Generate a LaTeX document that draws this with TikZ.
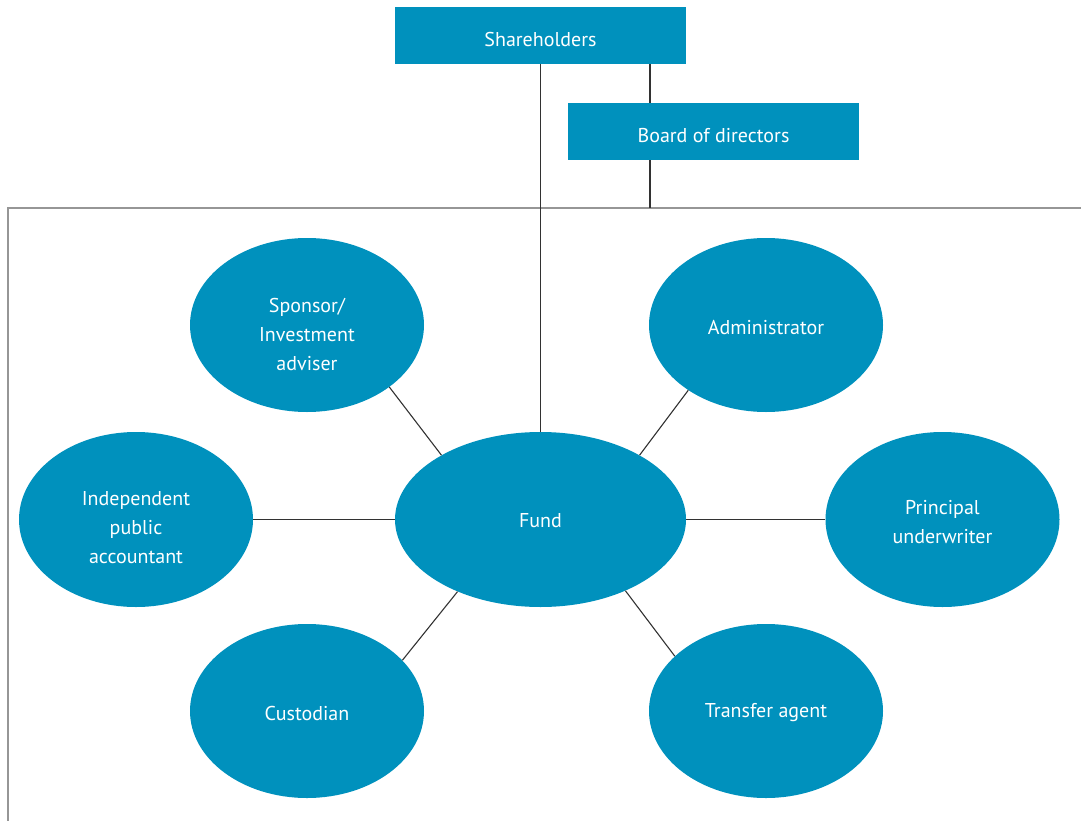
\documentclass[tikz,border=0pt]{standalone}
\usepackage{fontspec}
\setmainfont{PT Sans}
\usetikzlibrary{shapes.geometric}
\definecolor{fundblue}{RGB}{0,145,189}
\definecolor{framegray}{RGB}{150,150,150}
\definecolor{linegray}{RGB}{50,50,50}
\tikzset{
  topbox/.style={draw=none, fill=fundblue, text=white, minimum width=291pt, minimum height=57pt, inner sep=0pt, font=\fontsize{20}{24}\selectfont},
  oval/.style={ellipse, draw=none, fill=fundblue, text=white, minimum width=234pt, minimum height=174pt, inner sep=0pt, align=center, font=\fontsize{20}{29}\selectfont},
  lbl/.style={text=white, align=center, inner sep=0pt, font=\fontsize{20}{29}\selectfont},
  conn/.style={draw=linegray, line width=1.1pt},
  frameline/.style={draw=framegray, line width=2pt}
}
\begin{document}
\begin{tikzpicture}[x=1pt,y=-1pt]
\useasboundingbox (0,0) rectangle (1081,821);
% frame
\coordinate (fl) at (8,821);
\coordinate (ftl) at (8,208);
\coordinate (ftr) at (1081,208);
\draw[frameline] (fl) -- (ftl) -- (ftr);
% top boxes
\node[topbox] (sh) at (540.5,35.5) {};
\node[lbl] (shl) at (540.5,39.5) {Shareholders};
\node[topbox] (bd) at (713.5,131.5) {};
\node[lbl] (bdl) at (713.5,135.5) {Board of directors};
% ellipses
\node[oval, minimum width=291pt, minimum height=175pt] (fund) at (540.5,519.5) {};
\node[lbl] (fundl) at (540.5,520.5) {Fund};
\node[oval] (spon) at (307,325) {};
\node[lbl] (sponl) at (307,334) {Sponsor/\\Investment\\adviser};
\node[oval] (admin) at (766,325) {};
\node[lbl] (adminl) at (766,327.5) {Administrator};
\node[oval, minimum height=175pt] (acct) at (136,519.5) {};
\node[lbl] (acctl) at (136,528) {Independent\\public\\accountant};
\node[oval, minimum height=175pt] (uw) at (942.5,519.5) {};
\node[lbl] (uwl) at (942.5,522) {Principal\\underwriter};
\node[oval] (cust) at (307,711) {};
\node[lbl] (custl) at (307,713) {Custodian};
\node[oval] (ta) at (766,711) {};
\node[lbl] (tal) at (766,713) {Transfer agent};
% connectors
\draw[conn] (sh.south -| fund.north) -- (fund.north);
\coordinate (shb) at (650,64);
\draw[conn] (sh.south -| shb) -- (bd.north -| shb);
\coordinate (bdf) at (650,208);
\draw[conn] (bd.south -| bdf) -- (bdf);
\draw[conn] (spon.-37) -- (fund.147);
\draw[conn] (admin.-140) -- (fund.33.5);
\draw[conn] (cust.28) -- (fund.221.4);
\draw[conn] (ta.149.3) -- (fund.-40.6);
\draw[conn] (acct.east) -- (fund.west);
\draw[conn] (uw.west) -- (fund.east);
\end{tikzpicture}
\end{document}
